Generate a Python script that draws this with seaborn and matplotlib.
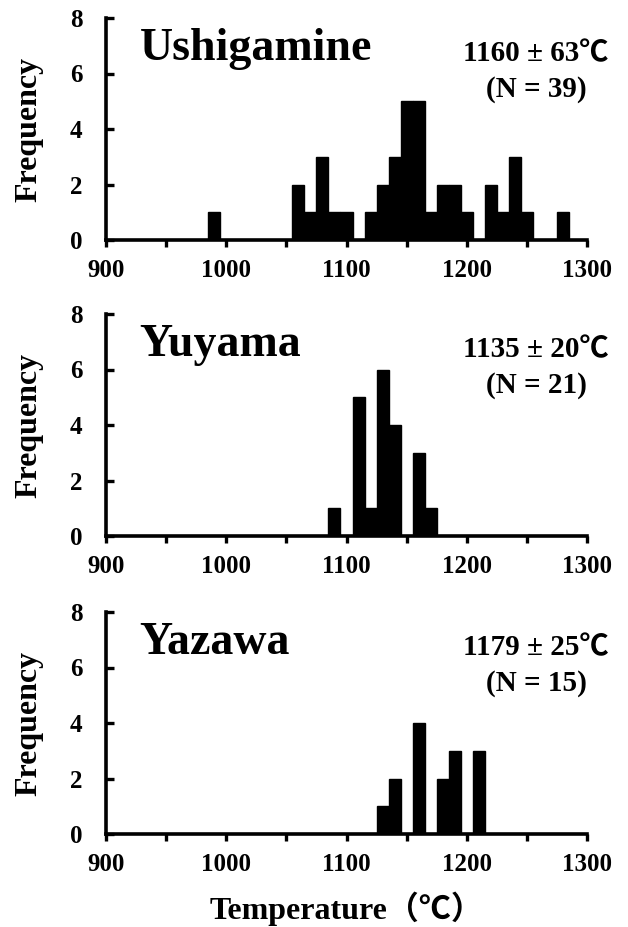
import numpy as np
import pandas as pd
import matplotlib
matplotlib.use("Agg")
import matplotlib.pyplot as plt
from matplotlib.ticker import MultipleLocator
import seaborn as sns

# ---- data (bin centres in degC, counts per 10 degC bin) ----
ush_temp = [990, 1060, 1070, 1080, 1090, 1100, 1120, 1130, 1140, 1150,
            1160, 1170, 1180, 1190, 1200, 1220, 1230, 1240, 1250, 1280]
ush_count = [1, 2, 1, 3, 1, 1, 1, 2, 3, 5, 5, 1, 2, 2, 1, 2, 1, 3, 1, 1]

yuy_temp = [1090, 1110, 1120, 1130, 1140, 1160, 1170]
yuy_count = [1, 5, 1, 6, 4, 3, 1]

yaz_temp = [1130, 1140, 1160, 1180, 1190, 1210]
yaz_count = [1, 2, 4, 2, 3, 3]

site_names = ["Ushigamine", "Yuyama", "Yazawa"]
site_stats = ["1160 ± 63℃", "1135 ± 20℃", "1179 ± 25℃"]
site_n = ["(N = 39)", "(N = 21)", "(N = 15)"]
x_ticklabels = ["900", "1000", "1100", "1200", "1300"]

sns.set_style("ticks")
plt.rcParams["font.family"] = ["Liberation Serif", "Noto Sans CJK JP", "DejaVu Sans"]
plt.rcParams["font.weight"] = "bold"
for k in ["text.color", "axes.labelcolor", "xtick.color", "ytick.color", "axes.edgecolor"]:
    plt.rcParams[k] = "black"

fig = plt.figure(figsize=(6.28, 9.27), dpi=100)

left = 106 / 628
width = 481 / 628
H = 222
tops = [18, 314, 612]
datasets = [(ush_temp, ush_count), (yuy_temp, yuy_count), (yaz_temp, yaz_count)]

for i, (top, (temps, counts)) in enumerate(zip(tops, datasets)):
    bottom = 1 - (top + H) / 927
    ax = fig.add_axes([left, bottom, width, H / 927])
    df = pd.DataFrame({"temp": temps, "count": counts})
    sns.histplot(data=df, x="temp", weights="count", binwidth=10,
                 binrange=(895, 1305), ax=ax,
                 color="black", alpha=1, edgecolor="black", linewidth=1.0)
    ax.set_xlim(900, 1300)
    ax.set_ylim(0, 8)
    sns.despine(ax=ax)
    for s in ["left", "bottom"]:
        ax.spines[s].set_linewidth(2.6)
        ax.spines[s].set_color("black")
    ax.set_xticks([900, 1000, 1100, 1200, 1300])
    ax.set_xticklabels(x_ticklabels)
    ax.xaxis.set_minor_locator(MultipleLocator(50))
    ax.set_yticks([0, 2, 4, 6, 8])
    ax.tick_params(axis="x", which="both", direction="out", length=5, width=2.4,
                   labelsize=18, pad=9, color="black", labelcolor="black")
    ax.tick_params(axis="y", which="both", direction="in", length=6, width=2.4,
                   labelsize=18, pad=17, color="black", labelcolor="black")
    for lab in ax.get_xticklabels() + ax.get_yticklabels():
        lab.set_fontweight("bold")
    ax.set_ylabel("Frequency", fontsize=23, fontweight="bold", color="black")
    ax.yaxis.set_label_coords(-0.131, 0.5)
    ax.text(0.07, 0.86, site_names[i], transform=ax.transAxes, fontsize=33,
            fontweight="bold", ha="left", va="center", color="black")
    ax.text(0.894, 0.838, site_stats[i], transform=ax.transAxes, fontsize=21,
            fontweight="bold", ha="center", va="center", color="black")
    ax.text(0.894, 0.68, site_n[i], transform=ax.transAxes, fontsize=21,
            fontweight="bold", ha="center", va="center", color="black")
    if i == 2:
        ax.set_xlabel("Temperature（℃）", fontsize=23, fontweight="bold", color="black")
        ax.xaxis.set_label_coords(0.5, -0.26)
    else:
        ax.set_xlabel("")

fig.savefig("out.png", dpi=100)
